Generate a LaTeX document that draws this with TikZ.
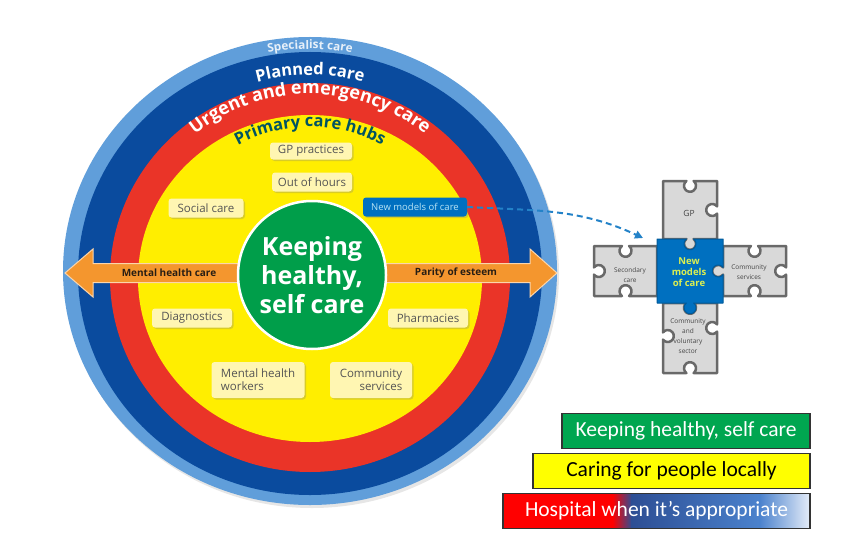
\documentclass[tikz,border=0pt]{standalone}
\usepackage{fontspec}
\setmainfont{Open Sans}
\newfontfamily\legendfont{Carlito}
\usetikzlibrary{positioning, calc, shadows, decorations.text, arrows.meta}

\definecolor{ringlight}{RGB}{96,158,218}
\definecolor{ringdark}{RGB}{10,75,158}
\definecolor{ringred}{RGB}{234,52,40}
\definecolor{ringyellow}{RGB}{255,238,0}
\definecolor{coregreen}{RGB}{0,158,74}
\definecolor{hubfill}{RGB}{255,246,178}
\definecolor{hubtext}{RGB}{85,85,85}
\definecolor{hubsteal}{RGB}{0,84,98}
\definecolor{nmcblue}{RGB}{0,112,192}
\definecolor{nmctext}{RGB}{185,228,245}
\definecolor{arroworange}{RGB}{244,150,46}
\definecolor{arrowtext}{RGB}{40,30,20}
\definecolor{piecegray}{RGB}{217,217,217}
\definecolor{pieceline}{RGB}{105,105,105}
\definecolor{piecetext}{RGB}{70,70,70}
\definecolor{modelsgreen}{RGB}{222,240,80}
\definecolor{dashblue}{RGB}{35,130,200}
\definecolor{legendgreen}{RGB}{0,166,80}
\definecolor{legendyellow}{RGB}{255,255,0}
\definecolor{hospred}{RGB}{255,0,0}
\definecolor{hospnavy}{RGB}{45,78,148}
\definecolor{hospblue}{RGB}{75,130,205}
\definecolor{hosplight}{RGB}{228,236,248}

% puzzle sides: straight, notch, tab (direction, length before knob, length after knob)
\newcommand\pzs[2]{-- ++(#1:#2)}
\newcommand\pzn[3]{-- ++(#1:{#2-3.6}) arc[start angle={126.87+#1}, end angle={413.13+#1}, radius=6] -- ++(#1:{#3-3.6})}
\newcommand\pzt[3]{-- ++(#1:{#2-3.6}) arc[start angle={233.13+#1}, end angle={-53.13+#1}, radius=6] -- ++(#1:{#3-3.6})}

\tikzset{
	hubbox/.style={rounded corners=3pt, fill=hubfill, text=hubtext, font=\fontsize{11.5}{13}\selectfont, minimum height=19pt, minimum width=80pt, inner xsep=5pt, inner ysep=2pt, drop shadow={shadow xshift=1.5pt, shadow yshift=-1.5pt, opacity=.3}},
	legendbox/.style={draw=black!80, line width=1.2pt, minimum height=35pt, font=\legendfont\fontsize{21.5}{22}\selectfont},
	piece/.style={fill=piecegray, draw=pieceline, line width=2.5pt, line join=round},
	piecelabel/.style={text=piecetext, font=\fontsize{6.5}{10}\selectfont, align=center, inner sep=0pt},
	ringtext/.style={decorate, decoration={text along path, text align=center, text={#1}}},
}

\begin{document}
\begin{tikzpicture}[x=1pt, y=1pt]
	\useasboundingbox (0,0) rectangle (850,558);

	\coordinate (ctrA) at (310,287);
	\coordinate (ctrB) at (310,284);
	\coordinate (ctrC) at (310,280);

	% rings
	\fill[ringlight, drop shadow={shadow xshift=2pt, shadow yshift=-3pt, opacity=.2}] (310,287) ellipse [x radius=247, y radius=234];
	\fill[ringdark] (310,284.5) ellipse [x radius=232, y radius=221.5];
	\fill[ringred] (310,280.5) ellipse [x radius=200, y radius=194.5];
	\fill[ringyellow] (310,279.5) ellipse [x radius=172, y radius=163.5];

	\path[ringtext={|\bfseries\fontsize{11.8}{11.8}\selectfont\color{white!85!ringlight}|Specialist care}] ($(ctrA)+(150:222)$) arc[start angle=150, end angle=30, radius=222];
	\path[ringtext={|\bfseries\fontsize{16.5}{16.5}\selectfont\color{white}|Planned care}] ($(ctrB)+(150:199)$) arc[start angle=150, end angle=30, radius=199];
	\path[ringtext={|\bfseries\fontsize{18}{18}\selectfont\color{white}|Urgent and emergency care}] ($(ctrC)+(160:184)$) arc[start angle=160, end angle=20, radius=184];
	\path[ringtext={|\bfseries\fontsize{16.5}{16.5}\selectfont\color{hubsteal}|Primary care hubs}] ($(ctrC)+(160:151)$) arc[start angle=160, end angle=20, radius=151];

	% double arrow
	\draw[fill=arroworange, draw=arroworange!40!white, line width=1pt] (65,285) -- (93,309) -- (93,294.5) -- (530,294.5) -- (530,309) -- (557,285) -- (530,261) -- (530,275.5) -- (93,275.5) -- (93,261) -- cycle;
	\node[font=\bfseries\fontsize{10}{11}\selectfont, text=arrowtext] (mhcare) at (169,285) {Mental health care};
	\node[font=\bfseries\fontsize{10}{11}\selectfont, text=arrowtext] (parity) at (456,285) {Parity of esteem};

	\node[circle, fill=coregreen, draw=white, line width=2.5pt, minimum size=148pt, text=white, font=\bfseries\fontsize{25}{29}\selectfont, align=center, inner sep=0pt] (core) at (312,283) {Keeping\\healthy,\\self care};

	% hubs
	\node[hubbox, minimum width=82pt, minimum height=17pt] (gpprac) at (311,407) {GP practices};
	\node[hubbox] (outhours) at (312,376) {Out of hours};
	\node[hubbox, minimum width=75pt] (social) at (206,350) {Social care};
	\node[hubbox, fill=nmcblue, text=nmctext, font=\fontsize{9.5}{11}\selectfont, minimum width=104pt] (nmc) at (415,351) {New models of care};
	\node[hubbox] (diag) at (192,240) {Diagnostics};
	\node[hubbox] (pharm) at (428,240) {Pharmacies};
	\node[hubbox, align=left, minimum width=93pt, minimum height=36pt] (mhworkers) at (258,178) {Mental health\\workers};
	\node[hubbox, align=right, minimum width=82pt, minimum height=36pt] (commserv) at (371,178) {Community\\services};

	% puzzle
	\draw[piece] (663,377) \pzn{0}{27}{27} \pzn{-90}{29}{29} \pzt{180}{27}{27} -- cycle;
	\draw[piece] (594,312) \pzn{0}{31.5}{31.5} \pzs{-90}{50} \pzn{180}{31.5}{31.5} \pzn{90}{25}{25} -- cycle;
	\draw[piece] (723,312) \pzn{0}{31.5}{31.5} \pzn{-90}{25}{25} \pzn{180}{31.5}{31.5} \pzt{90}{25}{25} -- cycle;
	\draw[piece] (663,255) \pzn{0}{27}{27} \pzn{-90}{25}{45} \pzn{180}{27}{27} \pzn{90}{37}{33} -- cycle;
	\draw[fill=nmcblue, draw=nmcblue!80!black, line width=1pt, line join=round] (657,319) \pzn{0}{33}{33} \pzn{-90}{32}{32} \pzt{180}{33}{33} -- cycle;

	\node[piecelabel, font=\fontsize{8.5}{9}\selectfont] (gp) at (689,345) {GP};
	\node[piecelabel] (secondary) at (630,283) {Secondary\\care};
	\node[piecelabel] (community) at (749,286) {Community\\services};
	\node[piecelabel, text=modelsgreen, font=\bfseries\fontsize{9.5}{11}\selectfont] (models) at (689,286) {New\\models\\of care};
	\node[piecelabel] (voluntary) at (688,222) {Community\\and\\voluntary\\sector};

	\coordinate (nmcend) at (643,320);
	\draw[dashblue, line width=2pt, dash pattern=on 6pt off 4pt, -{Triangle[length=8pt, width=8pt]}] (nmc.east) to[out=-3, in=155] (nmcend);

	% legend
	\node[legendbox, fill=legendgreen, text=white, minimum width=248pt] (keepleg) at (686,127.2) {Keeping healthy, self care};
	\node[legendbox, fill=legendyellow, text=black, minimum width=277pt] (localleg) at (671.5,87.2) {Caring for people locally};
	\fill[hospred] (503,29.7) rectangle (613,64.7);
	\shade[left color=hospred, right color=hospnavy] (612.5,29.7) rectangle (632,64.7);
	\shade[left color=hospnavy, right color=hospblue] (631.5,29.7) rectangle (760,64.7);
	\shade[left color=hospblue, right color=hosplight] (759.5,29.7) rectangle (810,64.7);
	\node[legendbox, text=white, minimum width=307pt] (hospleg) at (656.5,47.2) {Hospital when it’s appropriate};
\end{tikzpicture}
\end{document}
